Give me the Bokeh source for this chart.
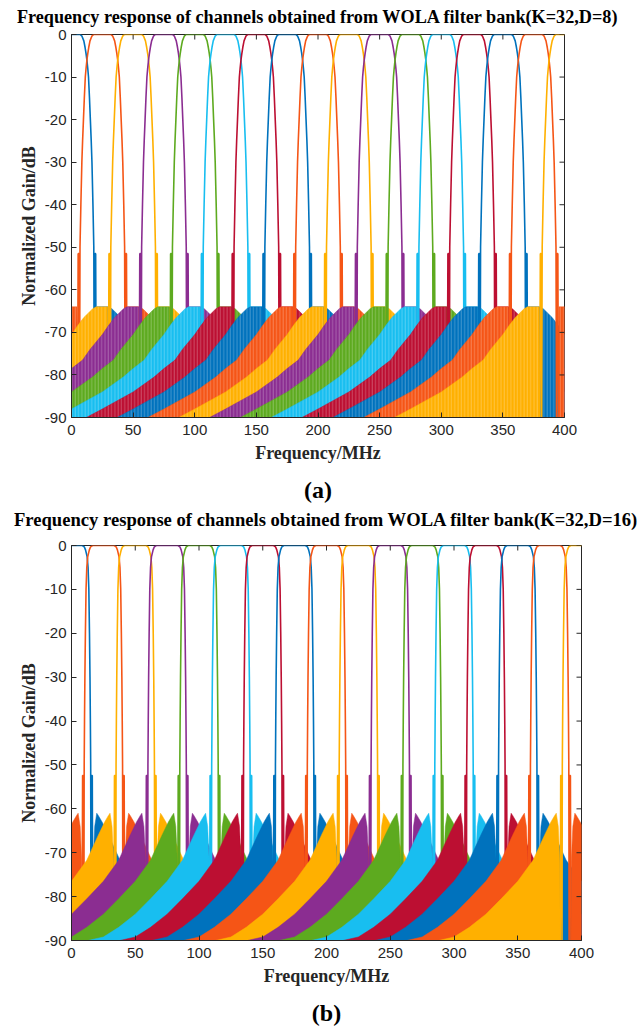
from bokeh.plotting import figure
from bokeh.models import FixedTicker, Range1d, LinearAxis
from bokeh.layouts import column
from bokeh.embed import file_html
from bokeh.resources import INLINE

# ---------------- data ----------------
CENTERS = [0, 25, 50, 75, 100, 125, 150, 175, 200, 225, 250, 275, 300, 325, 350, 375, 400]
COLORS = ["#0072BD", "#F55516", "#FFB000", "#8B2D91", "#5DAA1F", "#18BEF0", "#BC0F32"]

X_TICKS = [0, 50, 100, 150, 200, 250, 300, 350, 400]
Y_TICKS = [0, -10, -20, -30, -40, -50, -60, -70, -80, -90]
Y_LABELS = ["0", "-10", "-20", "-30", "-40", "-50", "-60", "-70", "-80", "-90"]

# panel (a) K=32, D=8 : one-sided prototype (offset from channel centre in MHz, gain in dB)
A_MAIN_OFF = [0, 7.0, 8.5, 10.0, 11.0, 11.8, 12.5, 13.2, 13.8, 14.6, 15.3, 16.0, 16.6, 17.4, 18.1, 18.5, 19.0, 19.6, 20.1]
A_MAIN_DB = [0, 0, -0.4, -1.5, -3.0, -4.5, -6.0, -8.0, -10, -15, -20, -25, -30, -40, -50, -90, -51.5, -51.5, -90]
A_SIDE_OFF = [20.3, 20.6, 30, 33, 40, 45, 50, 60, 66, 75, 83, 100, 125, 138]
A_SIDE_DB = [-90, -64, -64, -64.5, -66.5, -68.4, -70.5, -74, -76.5, -78.5, -80.5, -84, -88, -90]

# panel (b) K=32, D=16
B_MAIN_OFF = [0, 8.5, 10.0, 11.0, 12.3, 13.0, 13.6, 14.1, 14.5, 14.8, 15.05, 15.3, 15.8, 16.3, 16.7]
B_MAIN_DB = [0, 0, -0.3, -1.0, -2.6, -5, -10, -20, -30, -40, -50, -90, -52.4, -52.4, -90]
B_SIDE_OFF = [16.8, 17.0, 18.2, 19.8, 21, 24, 29, 38, 50, 63, 75, 88, 100, 112]
B_SIDE_DB = [-90, -72, -64, -61, -61.5, -63, -66, -71.7, -76.5, -80.5, -84, -87, -89.2, -90]

TITLE_A = "Frequency response of channels obtained from WOLA filter bank(K=32,D=8)"
TITLE_B = "Frequency response of channels obtained from WOLA filter bank(K=32,D=16)"

AX = "#262626"
TICK_PX = 5


def style_axis(ax):
    ax.major_tick_in = TICK_PX
    ax.major_tick_out = 0
    ax.minor_tick_in = 0
    ax.minor_tick_out = 0
    ax.axis_line_color = AX
    ax.major_tick_line_color = AX
    ax.major_label_text_font = "Liberation Sans"
    ax.major_label_text_font_size = "15px"
    ax.major_label_text_color = AX
    ax.axis_label_text_font = "Liberation Serif"
    ax.axis_label_text_font_style = "bold"
    ax.axis_label_text_font_size = "18px"
    ax.axis_label_text_color = AX


def text_axis(text, size, standoff, color="black"):
    """An axis without ticks that only carries a centred text (title / panel tag)."""
    ax = LinearAxis(ticker=FixedTicker(ticks=[]), axis_label=text)
    ax.axis_line_color = None
    ax.major_tick_line_color = None
    ax.minor_tick_line_color = None
    ax.major_label_standoff = 0
    ax.axis_label_standoff = standoff
    ax.axis_label_text_font = "Liberation Serif"
    ax.axis_label_text_font_style = "bold"
    ax.axis_label_text_font_size = size
    ax.axis_label_text_color = color
    return ax


def panel(title, tag, main_off, main_db, side_off, side_db, fw, fh, bl, bt, br, bb,
          title_standoff, title_size, tag_standoff, striped):
    p = figure(frame_width=fw, frame_height=fh, min_border_left=bl, min_border_top=bt,
               min_border_right=br, min_border_bottom=bb, title=None,
               x_range=Range1d(0, 400), y_range=Range1d(-90, 0),
               output_backend="svg", toolbar_location=None)
    p.grid.visible = False
    p.outline_line_color = AX
    p.background_fill_color = "white"
    p.border_fill_color = "white"

    hatch = dict(hatch_pattern="vertical_line", hatch_color="white", hatch_alpha=0.28,
                 hatch_scale=3.3, hatch_weight=0.9) if striped else {}
    for k, c in enumerate(CENTERS):
        col = COLORS[k % len(COLORS)]
        # sidelobe regions on both sides of the channel
        p.patch([c + o for o in side_off], side_db, fill_color=col, line_color=col,
                line_width=0.5, **hatch)
        p.patch([c - o for o in side_off], side_db, fill_color=col, line_color=col,
                line_width=0.5, **hatch)
        # main lobe with the first sidelobe spike
        xs = [c - o for o in reversed(main_off[1:])] + [c + o for o in main_off]
        ys = list(reversed(main_db[1:])) + list(main_db)
        p.line(xs, ys, line_color=col, line_width=1.6)

    # inward ticks on the top and right edges of the box
    dy = TICK_PX * 90.0 / fh
    dx = TICK_PX * 400.0 / fw
    p.segment(x0=X_TICKS, y0=[0] * len(X_TICKS), x1=X_TICKS, y1=[-dy] * len(X_TICKS),
              line_color=AX, line_width=1)
    p.segment(x0=[400] * len(Y_TICKS), y0=Y_TICKS, x1=[400 - dx] * len(Y_TICKS), y1=Y_TICKS,
              line_color=AX, line_width=1)

    p.xaxis.ticker = FixedTicker(ticks=X_TICKS)
    p.yaxis.ticker = FixedTicker(ticks=Y_TICKS)
    p.yaxis.major_label_overrides = {t: l for t, l in zip(Y_TICKS, Y_LABELS)}
    p.xaxis.axis_label = "Frequency/MHz"
    p.yaxis.axis_label = "Normalized Gain/dB"
    style_axis(p.xaxis[0])
    style_axis(p.yaxis[0])
    p.xaxis.major_label_standoff = 7
    p.xaxis.axis_label_standoff = 5
    p.yaxis.axis_label_standoff = 3

    p.add_layout(text_axis(title, title_size, title_standoff), "above")
    p.add_layout(text_axis(tag, "24px", tag_standoff), "below")
    return p


pa = panel(TITLE_A, "(a)", A_MAIN_OFF, A_MAIN_DB, A_SIDE_OFF, A_SIDE_DB,
           493, 383, 66, 34, 81, 84, 8, "18.2px", 11, True)
pb = panel(TITLE_B, "(b)", B_MAIN_OFF, B_MAIN_DB, B_SIDE_OFF, B_SIDE_DB,
           510, 395, 71, 40, 59, 84, 16, "18.6px", 11, False)

layout = column(pa, pb, spacing=0)
open("out.html", "w").write(file_html(layout, INLINE))
